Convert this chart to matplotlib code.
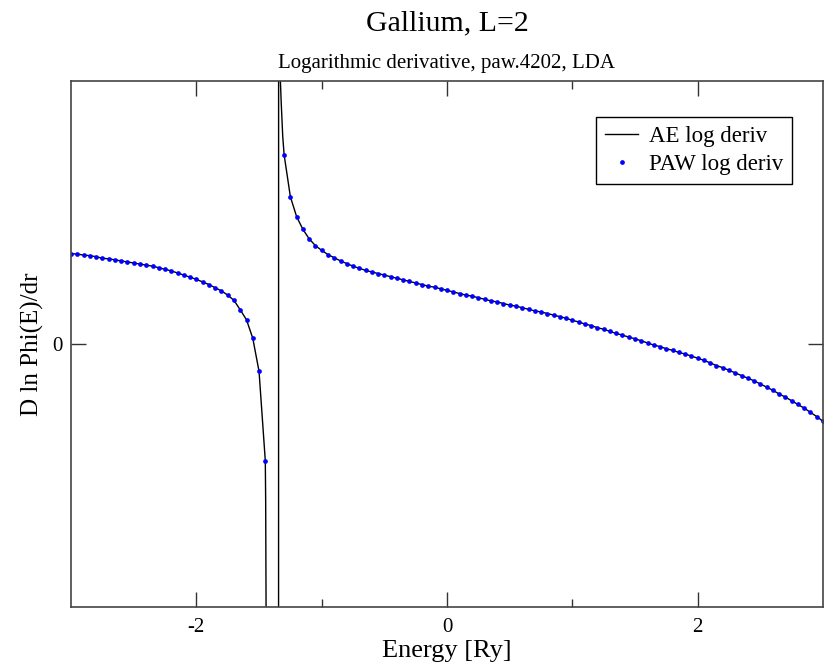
#!/bin/env python

import numpy as np
import matplotlib.pyplot as plt

plt.rcParams['font.family'] = ['Liberation Serif', 'DejaVu Serif']
plt.rcParams['axes.unicode_minus'] = False

# PAW log derivative, left branch (below the pole), 0.05 Ry grid
paw_energy_left = np.round(np.linspace(-3.0, -1.45, 32), 2)
paw_left = [1.72, 1.71, 1.69, 1.68, 1.66, 1.63, 1.62, 1.60, 1.58, 1.56,
            1.54, 1.52, 1.50, 1.48, 1.45, 1.42, 1.39, 1.35, 1.31, 1.27,
            1.23, 1.18, 1.13, 1.07, 1.01, 0.93, 0.83, 0.65, 0.46, 0.11,
            -0.52, -2.22]

# PAW log derivative, right branch (above the pole)
paw_energy_right = np.round(np.linspace(-1.30, 3.0, 87), 2)
paw_right = [3.60, 2.80, 2.42, 2.18, 2.00, 1.87, 1.78, 1.70, 1.64, 1.58,
             1.53, 1.48, 1.44, 1.40, 1.37, 1.34, 1.31, 1.28, 1.25, 1.22,
             1.19, 1.16, 1.13, 1.10, 1.08, 1.05, 1.02, 0.99, 0.96, 0.93,
             0.91, 0.88, 0.85, 0.82, 0.80, 0.77, 0.74, 0.72, 0.69, 0.66,
             0.63, 0.61, 0.58, 0.55, 0.52, 0.49, 0.45, 0.42, 0.38, 0.35,
             0.31, 0.28, 0.24, 0.20, 0.17, 0.13, 0.10, 0.06, 0.02, -0.02,
             -0.05, -0.09, -0.12, -0.16, -0.19, -0.23, -0.27, -0.31, -0.36, -0.41,
             -0.45, -0.50, -0.55, -0.60, -0.65, -0.70, -0.76, -0.82, -0.88, -0.95,
             -1.01, -1.08, -1.15, -1.22, -1.30, -1.38, -1.47]

# extra AE points around the pole (all-electron curve is sampled finer there)
ae_pole_energy = [-1.447, -1.443, -1.39, -1.347, -1.341, -1.334, -1.324, -1.311]
ae_pole = [-3.0, -5.6, -25.0, -80.0, 80.0, 5.3, 4.64, 3.95]

ae_energy = np.concatenate([paw_energy_left, ae_pole_energy, paw_energy_right])
ae_value = np.concatenate([paw_left, ae_pole, paw_right])

fig = plt.figure(figsize=(8.27, 6.62), dpi=100)
ax = fig.add_axes([0.0859, 0.0831, 0.9093, 0.7945])

ax.plot(ae_energy, ae_value, color='black', linewidth=1.0, label='AE log deriv')
ax.plot(np.concatenate([paw_energy_left, paw_energy_right]),
        np.concatenate([paw_left, paw_right]),
        linestyle='none', marker='o', markersize=3.4, color='#0000ff',
        markeredgewidth=0, label='PAW log deriv')

ax.set_xlim(-3, 3)
ax.set_ylim(-5, 5)
ax.set_xticks([-2, 0, 2])
ax.set_xticks([-1, 1], minor=True)
ax.set_yticks([0])
ax.tick_params(which='both', direction='in', top=True, right=True,
               labelsize=15, color='#333333')
ax.tick_params(which='major', length=11, width=1.0, pad=8)
ax.tick_params(which='minor', length=5.5, width=1.0)
ax.tick_params(axis='y', which='major', pad=6)
for s in ax.spines.values():
    s.set_linewidth(1.2)
    s.set_color('#444444')

ax.set_xlabel('Energy [Ry]', fontsize=19, labelpad=2)
ax.set_ylabel('D ln Phi(E)/dr', fontsize=18, labelpad=6)

fig.text(0.5405, 0.9547, 'Gallium, L=2', fontsize=21.5, ha='center', va='baseline')
fig.text(0.5405, 0.8973, 'Logarithmic derivative, paw.4202, LDA', fontsize=15,
         ha='center', va='baseline')

leg = ax.legend(loc='upper right', bbox_to_anchor=(0.9588, 0.9316),
                borderaxespad=0, fancybox=False, framealpha=1,
                edgecolor='black', fontsize=16.5, handlelength=1.45,
                borderpad=0.4, labelspacing=0.3, handletextpad=0.45)
leg.get_frame().set_linewidth(1.0)

plt.savefig('out.png', dpi=100)
